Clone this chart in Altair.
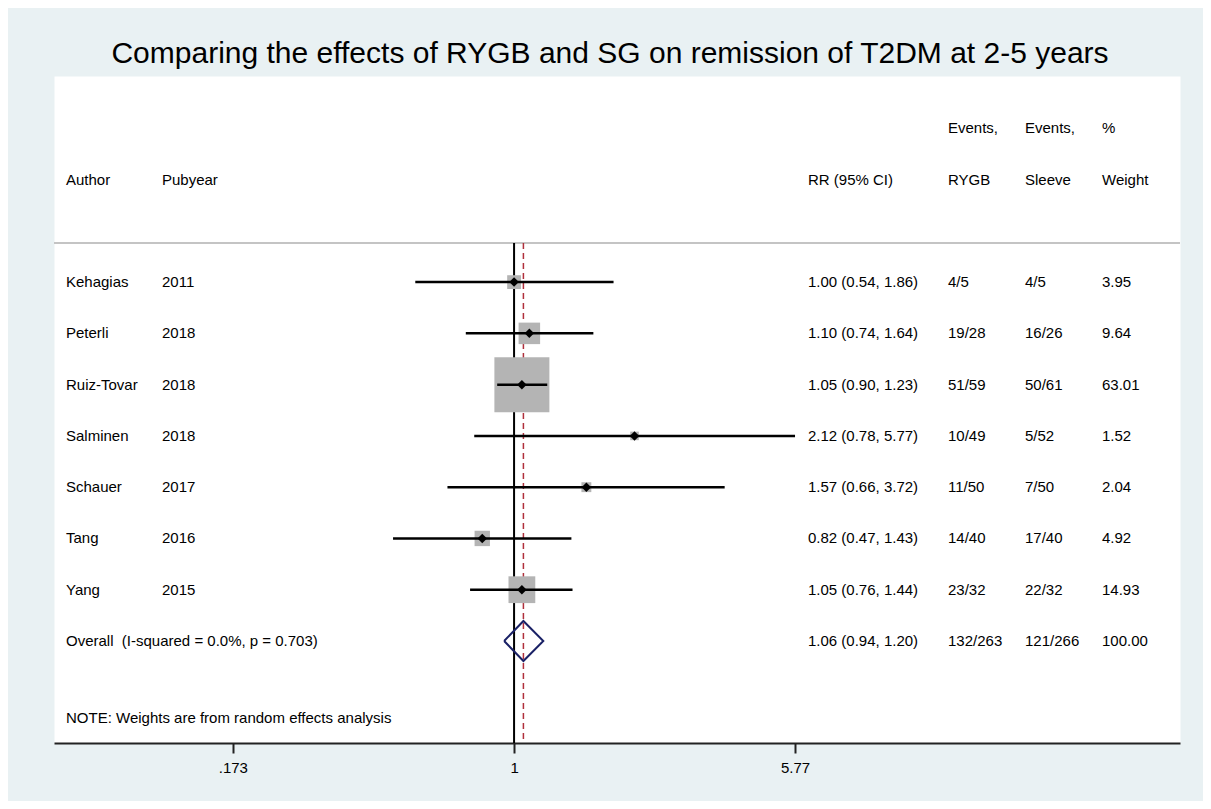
import altair as alt
import pandas as pd

# ---------------- data ----------------
title_text = "Comparing the effects of RYGB and SG on remission of T2DM at 2-5 years"
authors = ["Kehagias", "Peterli", "Ruiz-Tovar", "Salminen", "Schauer", "Tang", "Yang"]
years = [2011, 2018, 2018, 2018, 2017, 2016, 2015]
rr = [1.00, 1.10, 1.05, 2.12, 1.57, 0.82, 1.05]
lci = [0.54, 0.74, 0.90, 0.78, 0.66, 0.47, 0.76]
uci = [1.86, 1.64, 1.23, 5.77, 3.72, 1.43, 1.44]
events_rygb = ["4/5", "19/28", "51/59", "10/49", "11/50", "14/40", "23/32"]
events_sleeve = ["4/5", "16/26", "50/61", "5/52", "7/50", "17/40", "22/32"]
weights = [3.95, 9.64, 63.01, 1.52, 2.04, 4.92, 14.93]

overall_label = "Overall\u00a0 (I-squared = 0.0%, p = 0.703)"
overall_rr = 1.06
overall_lci = 0.94
overall_uci = 1.20
overall_rygb = "132/263"
overall_sleeve = "121/266"
overall_weight = 100.00
note_text = "NOTE: Weights are from random effects analysis"

tick_values = [0.173, 1, 5.77]
null_value = 1

# ---------------- layout ----------------
W, H = 1126, 667
Y_TOP, Y_BOT = -3.02, 9.99
HEADER_LINE = 0.237
X_DOM = [0.0567, 63.7]
FONT = "Liberation Sans, Arial, sans-serif"
FS = 15
DIAMOND_HALF = 0.39

n = len(authors)
rows = list(range(1, n + 1))
overall_row = n + 1
note_row = n + 2.5

xs = alt.Scale(type="log", domain=X_DOM, nice=False, zero=False)
ys = alt.Scale(domain=[Y_TOP, Y_BOT], reverse=True, nice=False, zero=False)

x_axis = alt.Axis(
    values=tick_values,
    labelExpr="replace(format(datum.value, '.3~g'), '0.', '.')",
    title=None, grid=False,
    domainColor="#222222", domainWidth=2,
    tickColor="#222222", tickWidth=2, tickSize=10,
    labelFontSize=FS, labelFont=FONT, labelColor="black",
    labelPadding=7, labelFlush=False, labelOverlap=False,
)

studies = pd.DataFrame({
    "author": authors,
    "year": [str(y) for y in years],
    "rr": rr, "lci": lci, "uci": uci,
    "rygb": events_rygb, "sleeve": events_sleeve,
    "weight": weights, "row": rows,
    "rrtxt": [f"{a:.2f} ({b:.2f}, {c:.2f})" for a, b, c in zip(rr, lci, uci)],
    "wtxt": [f"{w:.2f}" for w in weights],
})

overall = pd.DataFrame({
    "author": [overall_label], "year": [""],
    "rygb": [overall_rygb], "sleeve": [overall_sleeve],
    "row": [overall_row],
    "rrtxt": [f"{overall_rr:.2f} ({overall_lci:.2f}, {overall_uci:.2f})"],
    "wtxt": [f"{overall_weight:.2f}"],
})

diamond = pd.DataFrame({
    "x": [overall_lci, overall_rr, overall_uci, overall_rr, overall_lci],
    "y": [overall_row, overall_row - DIAMOND_HALF, overall_row,
          overall_row + DIAMOND_HALF, overall_row],
    "o": [0, 1, 2, 3, 4],
})

lines = pd.DataFrame({
    "x": [null_value, overall_rr], "y": [HEADER_LINE, HEADER_LINE],
    "y2": [Y_BOT, Y_BOT], "kind": ["null", "overall"],
})

Y = lambda f: alt.Y(f, scale=ys, axis=None)
X = lambda f: alt.X(f, scale=xs, axis=x_axis)

header_line = alt.Chart(pd.DataFrame({"y": [HEADER_LINE]})).mark_rule(
    color="#c4c4c4", strokeWidth=2).encode(y=Y("y:Q"))

null_line = alt.Chart(lines).transform_filter("datum.kind == 'null'").mark_rule(
    color="black", strokeWidth=2).encode(x=X("x:Q"), y=Y("y:Q"), y2="y2:Q")

overall_line = alt.Chart(lines).transform_filter("datum.kind == 'overall'").mark_rule(
    color="#b0303c", strokeWidth=1.5, strokeDash=[6, 4]).encode(x=X("x:Q"), y=Y("y:Q"), y2="y2:Q")

boxes = alt.Chart(studies).mark_square(color="#b4b4b4", opacity=1, strokeWidth=0).encode(
    x=X("rr:Q"), y=Y("row:Q"),
    size=alt.Size("weight:Q", scale=alt.Scale(domain=[0, max(weights)], range=[0, 3025]), legend=None),
)

ci = alt.Chart(studies).mark_rule(color="black", strokeWidth=2.5).encode(
    x=X("lci:Q"), x2="uci:Q", y=Y("row:Q"))

pts = alt.Chart(studies).mark_point(shape="diamond", filled=True, color="black", size=90, opacity=1).encode(
    x=X("rr:Q"), y=Y("row:Q"))

dia = alt.Chart(diamond).mark_line(color="#1a2166", strokeWidth=2).encode(
    x=X("x:Q"), y=Y("y:Q"), order="o:Q")

def col_text(df, field, px):
    return alt.Chart(df).mark_text(
        align="left", baseline="middle", font=FONT, fontSize=FS, color="black"
    ).encode(x=alt.value(px), y=Y("row:Q"), text=f"{field}:N")

table = pd.concat([studies, overall], ignore_index=True)
col_x = {"author": 12, "year": 108, "rrtxt": 754, "rygb": 894, "sleeve": 971, "wtxt": 1048}
text_layers = [col_text(table, f, px) for f, px in col_x.items()]

headers = pd.DataFrame({
    "row": [-2, -2, -2, -1, -1, -1, -1, -1, -1, note_row],
    "label": ["Events,", "Events,", "%", "Author", "Pubyear", "RR (95% CI)", "RYGB", "Sleeve", "Weight", note_text],
    "col": ["rygb", "sleeve", "wtxt", "author", "year", "rrtxt", "rygb", "sleeve", "wtxt", "author"],
})
for c, px in col_x.items():
    sub = headers[headers["col"] == c]
    if len(sub):
        text_layers.append(col_text(sub, "label", px))

chart = alt.layer(
    header_line, null_line, overall_line, boxes, ci, pts, dia, *text_layers
).properties(
    width=W, height=H,
    padding={"left": 46, "top": 68, "right": 23, "bottom": 58},
    autosize=alt.AutoSizeParams(type="none"),
    title=alt.TitleParams(
        title_text, fontSize=30, font=FONT, fontWeight="normal", color="black",
        anchor="middle", offset=7, dx=-7,
    ),
).configure(background="#e9f1f3").configure_view(fill="white", stroke="transparent")

chart.save("out.html", embed_options={"renderer": "svg", "actions": False})
